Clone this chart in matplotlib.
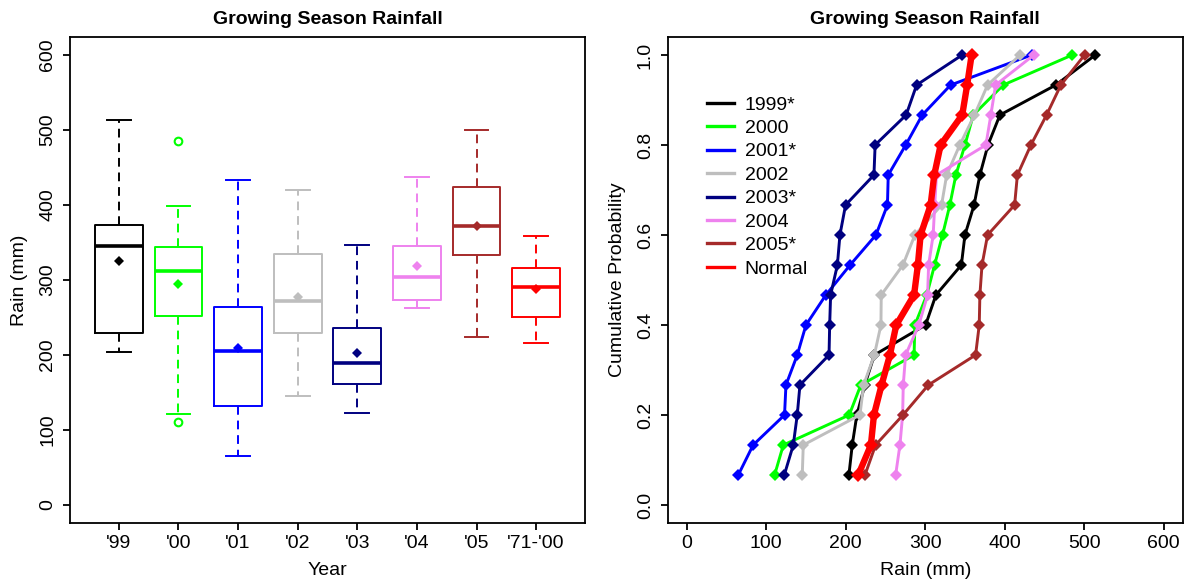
import numpy as np
import matplotlib
matplotlib.use("Agg")
import matplotlib.pyplot as plt
from matplotlib.lines import Line2D

plt.rcParams['font.family'] = ['Liberation Sans', 'DejaVu Sans']
plt.rcParams['font.size'] = 14

# Growing-season rainfall (mm) at 15 sites, sorted, per season
series_names = ["1999*", "2000", "2001*", "2002", "2003*", "2004", "2005*", "Normal"]
box_labels = ["'99", "'00", "'01", "'02", "'03", "'04", "'05", "'71-'00"]
colors = ["#000000", "#00FF00", "#0000FF", "#BEBEBE",
          "#000080", "#EE82EE", "#A52A2A", "#FF0000"]

rain_1999 = [204.0, 208.2, 214.0, 224.0, 236.0, 300.5, 313.5, 345.5,
             350.0, 361.5, 368.8, 379.0, 394.0, 464.4, 514.0]
rain_2000 = [110.5, 121.5, 204.4, 219.0, 286.0, 287.0, 302.0, 311.8,
             321.8, 331.0, 338.6, 350.0, 360.5, 398.2, 485.0]
rain_2001 = [64.8, 83.5, 123.0, 124.8, 139.0, 150.0, 175.0, 205.5,
             238.0, 252.5, 253.5, 275.5, 296.3, 332.0, 433.8]
rain_2002 = [145.3, 146.6, 217.9, 222.5, 236.0, 244.3, 244.7, 272.0,
             287.0, 320.6, 327.0, 343.5, 362.0, 378.5, 419.5]
rain_2003 = [122.7, 134.0, 139.0, 142.4, 179.0, 179.8, 181.0, 189.5,
             192.7, 199.8, 235.5, 237.0, 276.0, 289.2, 346.5]
rain_2004 = [262.8, 268.2, 271.6, 272.4, 275.3, 292.0, 303.0, 304.3,
             310.0, 312.0, 314.2, 376.4, 382.6, 388.6, 436.7]
rain_2005 = [224.2, 237.6, 272.0, 304.0, 363.4, 368.0, 368.8, 371.5,
             378.5, 412.5, 416.0, 433.0, 452.7, 470.7, 500.5]
rain_normal = [215.7, 231.7, 235.5, 245.1, 255.6, 263.6, 286.0, 290.8,
               294.2, 306.8, 311.4, 319.4, 346.6, 352.8, 358.4]

series = [rain_1999, rain_2000, rain_2001, rain_2002,
          rain_2003, rain_2004, rain_2005, rain_normal]

W, H = 1186, 584
fig = plt.figure(figsize=(W / 100, H / 100), dpi=100)

ax_l, ax_w = 70 / W, 515 / W
ax_b, ax_h = 1 - 523 / H, 486 / H
ax1 = fig.add_axes([ax_l, ax_b, ax_w, ax_h])
ax2 = fig.add_axes([667.7 / W, ax_b, ax_w, ax_h])

lw_box = 1.4
dash = (0, (4.5, 3.0))

# ---- left: box plots with means ----
bp = ax1.boxplot(series, positions=np.arange(1, 9), widths=0.8, whis=1.5,
                 showmeans=True, capwidths=0.4, manage_ticks=False)
for i, c in enumerate(colors):
    bp['boxes'][i].set(color=c, linewidth=lw_box)
    bp['medians'][i].set(color=c, linewidth=2.6, solid_capstyle='butt')
    for w in bp['whiskers'][2 * i:2 * i + 2]:
        w.set(color=c, linewidth=lw_box, linestyle=dash)
    for cp in bp['caps'][2 * i:2 * i + 2]:
        cp.set(color=c, linewidth=lw_box)
    bp['fliers'][i].set(marker='o', markerfacecolor='none', markeredgecolor=c,
                        markersize=5.5, markeredgewidth=1.5)
    bp['means'][i].set(marker='D', markerfacecolor=c, markeredgecolor=c,
                       markersize=5.6, markeredgewidth=0)

ax1.set_xlim(0.18, 8.82)
ax1.set_ylim(-24, 624)
ax1.set_xticks(np.arange(1, 9))
ax1.set_xticklabels(box_labels)
ax1.set_yticks(np.arange(0, 601, 100))
ax1.set_xlabel("Year", labelpad=7)
ax1.set_ylabel("Rain (mm)", labelpad=8)
ax1.set_title("Growing Season Rainfall", fontweight='bold', fontsize=14, pad=9)

# ---- right: empirical cumulative distributions ----
for name, vals, c in zip(series_names, series, colors):
    v = np.sort(np.asarray(vals))
    p = np.arange(1, len(v) + 1) / len(v)
    if name == "Normal":
        ax2.plot(v, p, color=c, lw=4.6, marker='D', ms=7.2, mew=0, zorder=4)
    else:
        ax2.plot(v, p, color=c, lw=2.1, marker='D', ms=5.8, mew=0, zorder=3)

ax2.set_xlim(-24, 624)
ax2.set_ylim(-0.04, 1.04)
ax2.set_xticks(np.arange(0, 601, 100))
ax2.set_yticks(np.arange(0, 1.01, 0.2))
ax2.set_yticklabels([f"{t:.1f}" for t in np.arange(0, 1.01, 0.2)])
ax2.set_xlabel("Rain (mm)", labelpad=7)
ax2.set_ylabel("Cumulative Probability", labelpad=8)
ax2.set_title("Growing Season Rainfall", fontweight='bold', fontsize=14, pad=9)

handles = [Line2D([], [], color=c, lw=2.4) for c in colors]
ax2.legend(handles, series_names, loc='upper left',
           bbox_to_anchor=((706.7 - 667.7) / 515, 1 - (96 - 37) / 486),
           frameon=False, borderpad=0, borderaxespad=0, handlelength=1.4,
           handletextpad=0.55, labelspacing=0.3, fontsize=14)

for ax in (ax1, ax2):
    for s in ax.spines.values():
        s.set_linewidth(1.3)
    ax.tick_params(direction='out', length=5, width=1.3, labelsize=14)
    ax.tick_params(axis='x', pad=4)
    ax.tick_params(axis='y', pad=5)
    for lab in ax.get_yticklabels():
        lab.set_rotation(90)
        lab.set_va('center')

fig.savefig("out.png", dpi=100)
